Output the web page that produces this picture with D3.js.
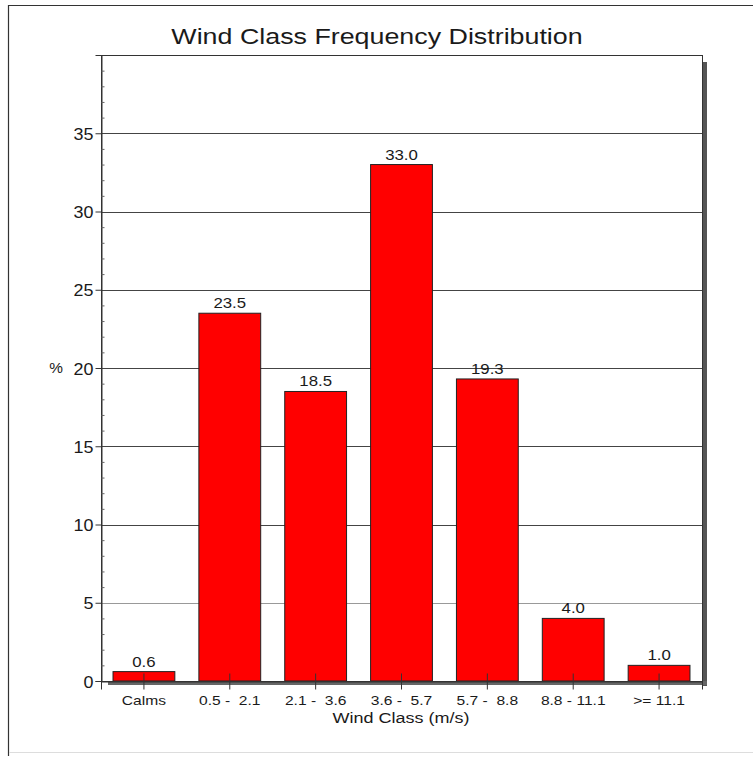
<!DOCTYPE html>
<html><head><meta charset="utf-8">
<script src="https://cdn.jsdelivr.net/npm/d3@7"></script>
<style>
html,body{margin:0;padding:0;background:#fff;}
svg{display:block;font-family:"Liberation Sans",Arial,sans-serif;}
</style></head>
<body><svg id="c" width="753" height="759"></svg>
<script>
const categories = ["Calms", "0.5 -  2.1", "2.1 -  3.6", "3.6 -  5.7", "5.7 -  8.8", "8.8 - 11.1", ">= 11.1"];
const values = [0.6, 23.5, 18.5, 33.0, 19.3, 4.0, 1.0];
const yTicks = [0, 5, 10, 15, 20, 25, 30, 35];
const yMinorTicks = d3.range(0, 41, 1);
const title = "Wind Class Frequency Distribution";
const xTitle = "Wind Class (m/s)";
const yTitle = "%";

const svg = d3.select("#c");
const L = 101, T = 55, R = 702, B = 681;
const SX = 1.17;

function stretchText(g, x, y, txt, size, sx, anchor) {
  return g.append("text")
    .attr("transform", `translate(${x},${y}) scale(${sx},1)`)
    .attr("text-anchor", anchor || "middle")
    .attr("font-size", size).attr("fill", "#1a1a1a")
    .style("white-space", "pre")
    .text(txt);
}

// outer frame
svg.append("line").attr("x1", 8.5).attr("x2", 8.5).attr("y1", 5).attr("y2", 756).attr("stroke", "#333").attr("stroke-width", 1.2);
svg.append("line").attr("x1", 8).attr("x2", 753).attr("y1", 5.5).attr("y2", 5.5).attr("stroke", "#333").attr("stroke-width", 1.2);
svg.append("line").attr("x1", 9).attr("x2", 753).attr("y1", 752.5).attr("y2", 752.5).attr("stroke", "#ddd").attr("stroke-width", 1);

const x = d3.scaleBand().domain(categories).range([L, R]).paddingInner(0.28).paddingOuter(0.14);
const y = d3.scaleLinear().domain([0, 40]).range([B, T]);

// shadow
svg.append("rect").attr("x", R + 1).attr("y", T + 7).attr("width", 4).attr("height", B - T - 2).attr("fill", "#555");
svg.append("rect").attr("x", L + 7).attr("y", B).attr("width", R - L - 2).attr("height", 4).attr("fill", "#666");

// plot background
svg.append("rect").attr("x", L).attr("y", T).attr("width", R - L).attr("height", B - T).attr("fill", "#fff");

// gridlines
svg.append("g").selectAll("line").data(yTicks.filter(d => d > 0)).join("line")
  .attr("x1", L).attr("x2", R).attr("y1", d => Math.round(y(d)) + 0.5).attr("y2", d => Math.round(y(d)) + 0.5)
  .attr("stroke", d => d === 5 ? "#999" : "#444").attr("stroke-width", 1);

// bars
svg.append("g").selectAll("rect").data(values).join("rect")
  .attr("x", (d, i) => x(categories[i]))
  .attr("y", d => y(d))
  .attr("width", x.bandwidth())
  .attr("height", d => B - y(d))
  .attr("fill", "#ff0000").attr("stroke", "#222").attr("stroke-width", 1);

// plot border
svg.append("rect").attr("x", L + 0.5).attr("y", T + 0.5).attr("width", R - L).attr("height", B - T).attr("fill", "none").attr("stroke", "#333").attr("stroke-width", 1);

// y axis
const yAxis = d3.axisLeft(y).tickValues(yTicks).tickSize(6).tickFormat("");
const gy = svg.append("g").attr("transform", `translate(${L + 0.5},0)`).call(yAxis);
gy.select(".domain").attr("stroke", "#333");
gy.selectAll(".tick line").attr("stroke", "#333");
gy.selectAll(".tick").each(function(d) {
  stretchText(d3.select(this), -8, 6, d3.format("d")(d), 16, 1.12, "end");
});
const gyMinor = d3.axisRight(y).tickValues(yMinorTicks.filter(d => d % 5 !== 0)).tickSize(3).tickFormat("");
const gm = svg.append("g").attr("transform", `translate(${L + 0.5},0)`).call(gyMinor);
gm.select(".domain").remove();
gm.selectAll(".tick line").attr("stroke", "#666");

// x axis
const xAxis = d3.axisBottom(x).tickSize(8).tickFormat("");
const gx = svg.append("g").attr("transform", `translate(0,${B + 0.5})`).call(xAxis);
gx.select(".domain").attr("stroke", "#333");
gx.selectAll(".tick line").attr("stroke", "#333").attr("y1", -8);
gx.selectAll(".tick").each(function(d) {
  stretchText(d3.select(this), 0, 23, d, 13, 1.2, "middle");
});

// value labels
const vl = svg.append("g");
values.forEach((d, i) => {
  stretchText(vl, x(categories[i]) + x.bandwidth() / 2, y(d) - 5, d.toFixed(1), 15, 1.12, "middle");
});

// titles
stretchText(svg, 377, 44, title, 22, 1.22, "middle");
stretchText(svg, 401, 723, xTitle, 15, 1.2, "middle");
stretchText(svg, 56, 373, yTitle, 14, 1.1, "middle");
</script></body></html>
